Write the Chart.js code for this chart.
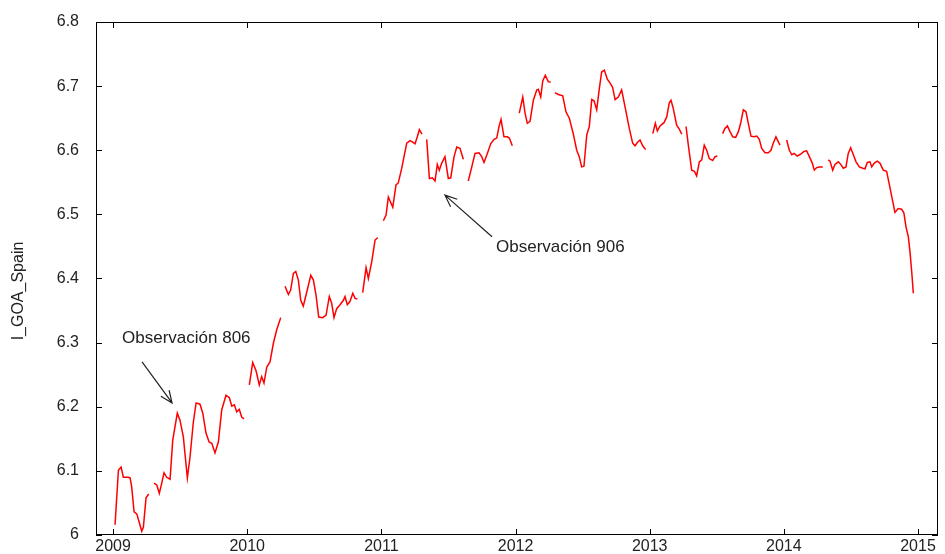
<!DOCTYPE html>
<html>
<head>
<meta charset="utf-8">
<script src="https://cdn.jsdelivr.net/npm/chart.js@4.4.1/dist/chart.umd.min.js"></script>
<style>
  html, body { margin: 0; padding: 0; background: #fff; }
  #wrap { width: 945px; height: 554px; position: relative; }
</style>
</head>
<body>
<div id="wrap"><canvas id="goa"></canvas></div>
<script>
// weekly observations, decimal years; null = missing week (gap in line)
const years = [
  2009.015, 2009.040, 2009.060, 2009.077, 2009.114, 2009.127, 2009.139, 2009.157, 2009.177, 2009.196,
  2009.214, 2009.226, 2009.246, 2009.266, 2009.286,
  2009.306, 2009.326, 2009.345, 2009.363, 2009.380, 2009.400, 2009.425, 2009.445, 2009.479, 2009.499,
  2009.524, 2009.554, 2009.574, 2009.598, 2009.619, 2009.648, 2009.669, 2009.693, 2009.716, 2009.736,
  2009.760, 2009.785, 2009.810, 2009.842, 2009.867, 2009.885, 2009.904, 2009.922, 2009.941, 2009.959,
  2009.976, 2009.996,
  2010.016, 2010.041, 2010.066, 2010.090, 2010.108, 2010.125, 2010.146, 2010.170, 2010.195, 2010.220,
  2010.250, 2010.266,
  2010.282, 2010.307, 2010.324, 2010.344, 2010.362, 2010.381, 2010.399, 2010.418, 2010.444, 2010.474,
  2010.493, 2010.513, 2010.533, 2010.563, 2010.588, 2010.612, 2010.630, 2010.647, 2010.667, 2010.692,
  2010.717, 2010.729, 2010.746, 2010.766, 2010.787, 2010.804, 2010.821, 2010.841,
  2010.861, 2010.886, 2010.903, 2010.928, 2010.953, 2010.973, 2010.994,
  2011.015, 2011.035, 2011.052, 2011.085, 2011.109, 2011.126, 2011.152, 2011.189, 2011.214, 2011.231,
  2011.251, 2011.268, 2011.283, 2011.303, 2011.320,
  2011.338, 2011.358, 2011.380, 2011.400, 2011.417, 2011.432, 2011.450, 2011.474, 2011.499, 2011.517,
  2011.542, 2011.562, 2011.586, 2011.611, 2011.630,
  2011.648, 2011.674, 2011.698, 2011.728, 2011.748, 2011.765, 2011.790, 2011.815, 2011.840, 2011.860,
  2011.877, 2011.892, 2011.914, 2011.939, 2011.954, 2011.976, 2012.002,
  2012.028, 2012.054, 2012.071, 2012.088, 2012.108, 2012.133, 2012.158, 2012.170, 2012.188, 2012.203,
  2012.222, 2012.244, 2012.262, 2012.278,
  2012.294, 2012.319, 2012.352, 2012.376, 2012.401, 2012.431, 2012.456, 2012.475, 2012.493, 2012.510,
  2012.531, 2012.550, 2012.568, 2012.585, 2012.605, 2012.625, 2012.642, 2012.662, 2012.684, 2012.704,
  2012.724, 2012.742, 2012.766, 2012.791, 2012.816, 2012.848, 2012.873, 2012.891, 2012.908, 2012.928,
  2012.948, 2012.970, 2012.996,
  2013.023, 2013.042, 2013.057, 2013.077, 2013.107, 2013.127, 2013.146, 2013.159, 2013.176, 2013.201,
  2013.221, 2013.239, 2013.255,
  2013.271, 2013.288, 2013.313, 2013.333, 2013.350, 2013.370, 2013.388, 2013.407, 2013.425, 2013.444,
  2013.470, 2013.487, 2013.504, 2013.524,
  2013.544, 2013.561, 2013.579, 2013.599, 2013.619, 2013.641, 2013.661, 2013.678, 2013.698, 2013.718,
  2013.735, 2013.755, 2013.778, 2013.798, 2013.817, 2013.835, 2013.860, 2013.884, 2013.904, 2013.921,
  2013.941, 2013.959, 2013.971, 2013.996,
  2014.021, 2014.041, 2014.059, 2014.076, 2014.100, 2014.126, 2014.150, 2014.170, 2014.190, 2014.212,
  2014.227, 2014.245, 2014.264, 2014.290, 2014.310,
  2014.331, 2014.344, 2014.364, 2014.381, 2014.406, 2014.424, 2014.443, 2014.463, 2014.480, 2014.498,
  2014.518, 2014.538, 2014.563, 2014.588, 2014.605, 2014.622, 2014.642, 2014.655, 2014.674, 2014.696,
  2014.716, 2014.741, 2014.766, 2014.785, 2014.804, 2014.828, 2014.853, 2014.878, 2014.895, 2014.910,
  2014.928, 2014.940, 2014.953, 2014.965
];
const values = [
  6.016, 6.101, 6.106, 6.090, 6.090, 6.089, 6.075, 6.036, 6.033, 6.019,
  6.006, 6.012, 6.058, 6.064, null,
  6.081, 6.078, 6.065, 6.081, 6.097, 6.090, 6.087, 6.148, 6.190, 6.179,
  6.153, 6.089, 6.122, 6.175, 6.206, 6.204, 6.190, 6.159, 6.145, 6.143,
  6.128, 6.145, 6.195, 6.218, 6.214, 6.201, 6.203, 6.192, 6.196, 6.184,
  6.181, null,
  6.234, 6.269, 6.256, 6.234, 6.247, 6.237, 6.262, 6.270, 6.299, 6.320,
  6.339, null,
  6.388, 6.375, 6.382, 6.408, 6.411, 6.398, 6.366, 6.357, 6.379, 6.405,
  6.398, 6.374, 6.340, 6.339, 6.343, 6.372, 6.361, 6.339, 6.353, 6.359,
  6.366, 6.372, 6.359, 6.364, 6.377, 6.369, 6.368, null,
  6.378, 6.417, 6.400, 6.426, 6.460, 6.464, null,
  6.490, 6.499, 6.527, 6.511, 6.546, 6.549, 6.572, 6.611, 6.615, 6.613,
  6.610, 6.621, 6.632, 6.625, null,
  6.617, 6.556, 6.557, 6.552, 6.578, 6.569, 6.580, 6.590, 6.556, 6.557,
  6.590, 6.605, 6.603, 6.586, null,
  6.552, 6.574, 6.595, 6.596, 6.590, 6.581, 6.595, 6.610, 6.617, 6.619,
  6.637, 6.648, 6.621, 6.621, 6.619, 6.607, null,
  6.658, 6.683, 6.658, 6.642, 6.645, 6.678, 6.694, 6.695, 6.683, 6.708,
  6.717, 6.707, 6.706, null,
  6.690, 6.687, 6.685, 6.660, 6.650, 6.625, 6.600, 6.590, 6.574, 6.575,
  6.624, 6.637, 6.679, 6.677, 6.663, 6.697, 6.722, 6.725, 6.711, 6.705,
  6.698, 6.679, 6.683, 6.694, 6.668, 6.634, 6.611, 6.607, 6.612, 6.616,
  6.607, 6.601, null,
  6.626, 6.642, 6.630, 6.638, 6.643, 6.652, 6.674, 6.678, 6.665, 6.639,
  6.633, 6.625, null,
  6.637, 6.608, 6.569, 6.567, 6.560, 6.582, 6.585, 6.608, 6.600, 6.587,
  6.584, 6.590, 6.591, null,
  6.626, 6.634, 6.638, 6.629, 6.621, 6.620, 6.629, 6.642, 6.663, 6.660,
  6.642, 6.622, 6.621, 6.622, 6.617, 6.603, 6.596, 6.596, 6.600, 6.611,
  6.621, 6.613, 6.608, null,
  6.616, 6.600, 6.593, 6.595, 6.591, 6.594, 6.598, 6.599, 6.590, 6.580,
  6.569, 6.573, 6.574, 6.574, null,
  6.585, 6.583, 6.569, 6.578, 6.582, 6.578, 6.572, 6.574, 6.595, 6.604,
  6.593, 6.582, 6.574, 6.572, 6.571, 6.581, 6.582, 6.574, 6.580, 6.583,
  6.580, 6.569, 6.567, 6.548, 6.528, 6.503, 6.509, 6.508, 6.502, 6.481,
  6.465, 6.442, 6.411, 6.377
];
const yearTicks = [2009, 2010, 2011, 2012, 2013, 2014, 2015];
const levelTicks = [6.0, 6.1, 6.2, 6.3, 6.4, 6.5, 6.6, 6.7, 6.8];

const FONT = '"Liberation Sans", Arial, sans-serif';

// box, inward ticks, y title and the two arrow notes
const frame = {
  id: 'frame',
  afterDraw(chart) {
    const { ctx, chartArea: a, scales: { x, y } } = chart;
    ctx.save();
    ctx.strokeStyle = '#000';
    ctx.lineWidth = 1;
    ctx.strokeRect(a.left + 0.5, a.top + 0.5, a.width - 1, a.height - 1);
    ctx.beginPath();
    levelTicks.forEach(v => {
      const p = Math.round(y.getPixelForValue(v)) + 0.5;
      ctx.moveTo(a.left, p); ctx.lineTo(a.left + 6, p);
      ctx.moveTo(a.right, p); ctx.lineTo(a.right - 6, p);
    });
    yearTicks.forEach(v => {
      const p = Math.round(x.getPixelForValue(v)) + 0.5;
      ctx.moveTo(p, a.bottom); ctx.lineTo(p, a.bottom - 6);
      ctx.moveTo(p, a.top); ctx.lineTo(p, a.top + 6);
    });
    ctx.stroke();

    ctx.fillStyle = '#222';
    ctx.font = '16px ' + FONT;
    ctx.save();
    ctx.translate(19, 291);
    ctx.rotate(-Math.PI / 2);
    ctx.textAlign = 'center';
    ctx.textBaseline = 'middle';
    ctx.fillText('I_GOA_Spain', 0, 0);
    ctx.restore();

    const notes = [
      { text: 'Observación 806', tx: 2009.067, ty: 6.307, from: [2009.216, 6.270], to: [2009.440, 6.206] },
      { text: 'Observación 906', tx: 2011.855, ty: 6.448, from: [2011.825, 6.465], to: [2011.474, 6.530] }
    ];
    ctx.font = '17px ' + FONT;
    ctx.textAlign = 'left';
    ctx.textBaseline = 'middle';
    ctx.strokeStyle = '#222';
    ctx.lineWidth = 1.2;
    notes.forEach(n => {
      ctx.fillText(n.text, x.getPixelForValue(n.tx), y.getPixelForValue(n.ty));
      const x0 = x.getPixelForValue(n.from[0]), y0 = y.getPixelForValue(n.from[1]);
      const x1 = x.getPixelForValue(n.to[0]), y1 = y.getPixelForValue(n.to[1]);
      const ang = Math.atan2(y1 - y0, x1 - x0);
      ctx.beginPath();
      ctx.moveTo(x0, y0); ctx.lineTo(x1, y1);
      ctx.moveTo(x1 - 13 * Math.cos(ang - 0.4), y1 - 13 * Math.sin(ang - 0.4));
      ctx.lineTo(x1, y1);
      ctx.lineTo(x1 - 13 * Math.cos(ang + 0.4), y1 - 13 * Math.sin(ang + 0.4));
      ctx.stroke();
    });
    ctx.restore();
  }
};

new Chart(document.getElementById('goa'), {
  type: 'line',
  data: {
    datasets: [{
      data: years.map((yr, i) => ({ x: yr, y: values[i] })),
      borderColor: '#ff0000',
      borderWidth: 1.5,
      pointRadius: 0,
      tension: 0,
      spanGaps: false
    }]
  },
  options: {
    responsive: true,
    maintainAspectRatio: false,
    animation: false,
    layout: { padding: { top: 22, right: 7, left: 0, bottom: 0 } },
    plugins: { legend: { display: false }, tooltip: { enabled: false } },
    scales: {
      x: {
        type: 'linear',
        min: 2008.873,
        max: 2015.149,
        afterBuildTicks: s => { s.ticks = yearTicks.map(v => ({ value: v })); },
        afterFit: s => { s.height = 19; s.paddingLeft = 0; s.paddingRight = 0; },
        grid: { display: false, drawTicks: false },
        border: { display: false },
        ticks: {
          padding: 2,
          color: '#222',
          font: { family: FONT, size: 16 },
          maxRotation: 0,
          callback: v => String(v)
        }
      },
      y: {
        min: 6.0,
        max: 6.8,
        afterBuildTicks: s => { s.ticks = levelTicks.map(v => ({ value: v })); },
        afterFit: s => { s.width = 96; s.paddingTop = 0; s.paddingBottom = 0; },
        grid: { display: false, drawTicks: false },
        border: { display: false },
        ticks: {
          padding: 17,
          color: '#222',
          font: { family: FONT, size: 16 },
          callback: v => String(+v.toFixed(1))
        }
      }
    }
  },
  plugins: [frame]
});
</script>
</body>
</html>
